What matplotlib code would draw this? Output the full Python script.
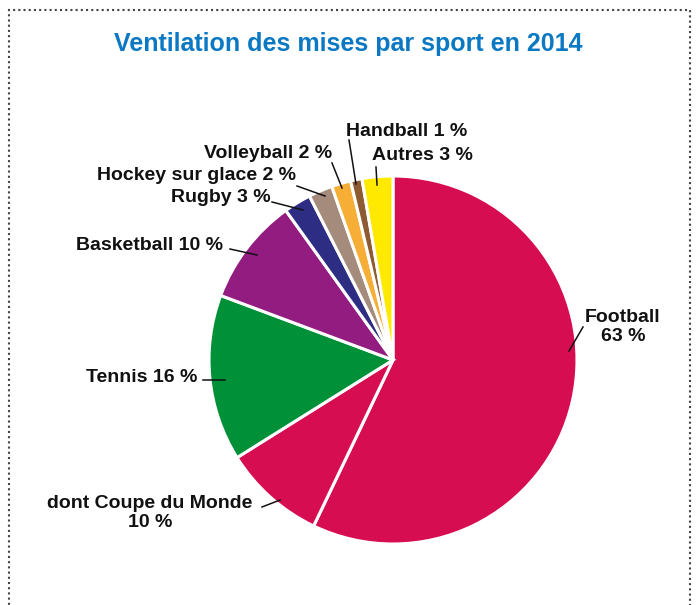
import matplotlib.pyplot as plt
from matplotlib.patches import Rectangle

# données (parts mesurées sur le graphique, libellés tels qu'affichés)
sports = ['Football', 'dont Coupe du Monde', 'Tennis', 'Basketball', 'Rugby',
          'Hockey sur glace', 'Volleyball', 'Handball', 'Autres']
parts = [57.1, 9.0, 14.6, 9.4, 2.4, 2.1, 1.7, 1.0, 2.7]
labels = ['Football\n63 %', 'dont Coupe du Monde\n10 %', 'Tennis 16 %', 'Basketball 10 %',
          'Rugby 3 %', 'Hockey sur glace 2 %', 'Volleyball 2 %', 'Handball 1 %', 'Autres 3 %']
couleurs = ['#D60D50', '#D60D50', '#009038', '#931C80', '#2D2E83',
            '#A48B7B', '#F7AE36', '#8E5A32', '#FFE900']

W, H = 697, 605
fig = plt.figure(figsize=(W / 100, H / 100), dpi=100)
ax = fig.add_axes([0, 0, 1, 1])

ax.pie(parts, colors=couleurs, startangle=90, counterclock=False,
       center=(393, H - 360), radius=184,
       wedgeprops=dict(edgecolor='white', linewidth=2.2))
ax.set_xlim(0, W)
ax.set_ylim(0, H)
ax.set_aspect('equal')
ax.axis('off')

# position des textes et des traits de rappel (pixels)
# (x texte, y texte, alignement, trait x0, y0, x1, y1)
pos = [
    (623, 327, 'center', 583, 327, 569, 351),
    (150, 513, 'center', 262, 507, 280, 500),
    (197, 378, 'right', 203, 380, 225, 380),
    (223, 245, 'right', 230, 249, 257, 255),
    (271, 198, 'right', 272, 202, 303, 210),
    (296, 175, 'right', 297, 186, 325, 196),
    (332, 153, 'right', 332, 163, 342, 188),
    (346, 131, 'left', 349, 140, 356, 184),
    (372, 155, 'left', 376, 167, 377, 185),
]
for lab, (tx, ty, ha, x0, y0, x1, y1) in zip(labels, pos):
    ax.text(tx, H - ty, lab, ha=ha, va='center', multialignment='center',
            fontsize=14, fontweight='bold',
            family=['Liberation Sans', 'DejaVu Sans'], color='#111111', linespacing=1.18)
    ax.plot([x0, x1], [H - y0, H - y1], color='#111111', linewidth=1.1)

ax.text(W / 2, H - 44, 'Ventilation des mises par sport en 2014', ha='center', va='center',
        fontsize=18, fontweight='bold', color='#0A78C2',
        family=['Liberation Sans Narrow', 'Liberation Sans', 'DejaVu Sans'])

# cadre pointillé
ax.add_patch(Rectangle((9, -20), 681, H - 10 + 20, fill=False, edgecolor='#444444',
                       linestyle=(0, (1, 1.5)), linewidth=1.5, clip_on=False))

fig.savefig('out.png', dpi=100)
